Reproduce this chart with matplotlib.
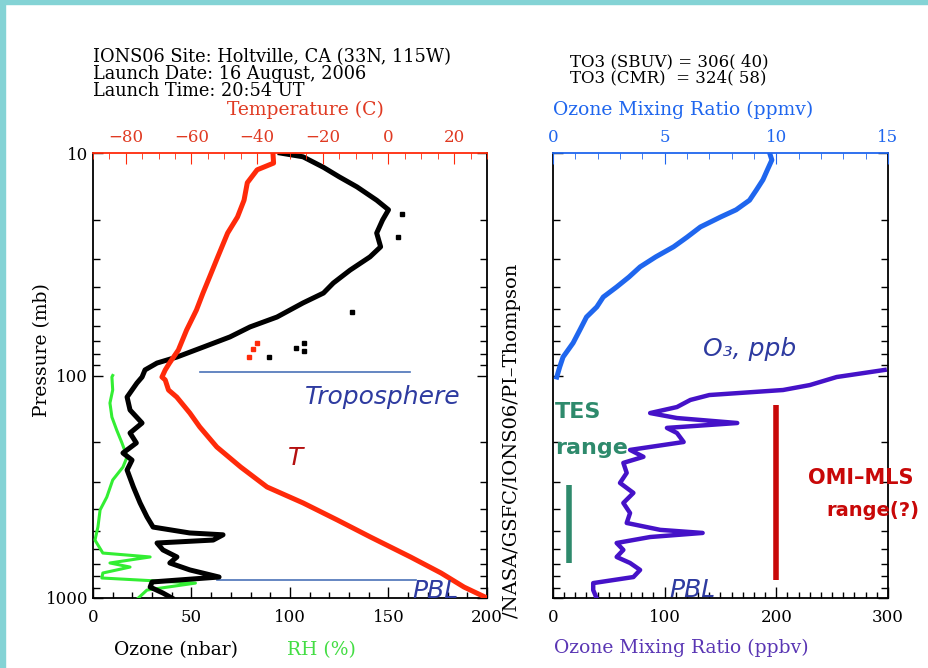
import numpy as np
import matplotlib
matplotlib.use("Agg")
from matplotlib import pyplot as plt
from matplotlib.patches import Rectangle
from matplotlib.ticker import MultipleLocator, NullFormatter, LogLocator

# --- sounding profiles (pressure in mb) ---
temp_p = [10.0, 11.1, 11.9, 13.6, 16.3, 19.4, 22.9, 29.3, 36.1, 42.6, 50.8, 62.5, 76.8,
          87.9, 94.4, 101.6, 104.7, 116.2, 125.0, 147.5, 170.2, 209.5, 258, 317, 374, 446,
          532, 654, 772, 893, 1000]
temp_c = [-35.2, -35.0, -40.0, -43.0, -44.0, -46.0, -49.0, -52.0, -54.5, -56.5, -58.5, -61.5,
          -64.0, -66.7, -68.0, -69.0, -68.0, -67.0, -64.5, -60.5, -57.5, -52.3, -45.0, -37.0,
          -26.0, -15.6, -5.5, 6.7, 16.0, 23.0, 30.0]

o3_p = [10.0, 10.4, 11.6, 12.8, 14.2, 16.3, 18.0, 20.0, 22.9, 26.4, 29.3, 33.6, 38.4, 42.6,
        47.2, 54.6, 60.5, 67.1, 74.5, 82.6, 87.9, 94.4, 101.6, 108.1, 125.0, 142.9, 163.5,
        181.3, 201, 223, 240, 266, 317, 374, 432, 480, 510, 520, 549, 566, 608, 654, 696,
        748, 805, 847, 893, 950, 1000]
o3_nbar = [95, 106.6, 117, 125, 134, 144, 150, 147, 144, 146, 140.6, 130.5, 122, 117, 106.6,
           93.4, 79.7, 69.5, 56, 42.6, 32.5, 26.4, 24.9, 22.3, 17.3, 18.8, 24.9, 18.8, 22,
           15.2, 19.8, 17.3, 20.5, 23.9, 27.4, 30.5, 49, 66, 61, 32.5, 35.5, 42.6, 39, 49.2,
           64, 30, 29, 35.5, 40]

rh_p = [100.0, 101.6, 116.2, 133.0, 153.8, 175.6, 201, 232, 258, 295, 352, 402, 480, 549,
        628, 654, 696, 726, 772, 813, 857, 921, 1000]
rh_pct = [10, 9.6, 10, 8.6, 9.6, 12, 14.7, 17.3, 15.2, 10, 7, 3.6, 2.5, 1, 5, 29, 8.6, 18.8,
          5, 4.5, 52, 27.4, 23]

# stray points in the ozone and temperature records
o3_stray_p = [18.8, 23.8, 51.6, 71.4, 75.2, 77.6, 82.6]
o3_stray_nbar = [156.7, 154.8, 131.3, 107, 103, 107, 89.3]
temp_stray_p = [71.4, 76.1, 82.6]
temp_stray_c = [-40.0, -41.3, -42.5]

# ozone mixing ratio: stratosphere in ppmv, troposphere in ppbv
ppmv_p = [10.0, 10.75, 11.9, 13.2, 14.7, 16.3, 18.0, 19.4, 21.5, 23.9, 26.4, 29.3, 32.5, 36.1,
          40.0, 44.4, 49.2, 54.6, 62.5, 71.4, 82.6, 91.6, 101.6]
ppmv = [9.7, 9.8, 9.6, 9.4, 9.1, 8.8, 8.2, 7.5, 6.6, 6.0, 5.4, 4.6, 3.9, 3.4, 2.85, 2.25, 1.96,
        1.5, 1.2, 0.9, 0.45, 0.3, 0.17]

ppbv_p = [94.4, 101.6, 110.4, 116.2, 122.4, 128.8, 138.6, 147.5, 155.3, 163.5, 172.0, 181.3,
          199.0, 216, 232, 247, 274, 304, 337, 374, 415, 460, 494, 510, 532, 566, 608, 654,
          696, 748, 805, 857, 921, 1000]
ppbv = [297, 254, 230, 206, 140, 123, 111, 87, 111, 165, 102, 111, 117, 69, 81, 63, 66, 60, 72,
        63, 69, 66, 96, 134, 87, 57, 63, 57, 69, 78, 72, 36, 36, 39]

# marked levels and satellite sensitivity ranges
tropopause_p = 96.4
pbl_p = 830.0
tes_ppbv, tes_range = 14.3, (310, 696)
omi_ppbv, omi_range = 200.0, (136, 830)

RED = "#ff2a0a"
BLACK = "black"
GREEN = "#33ee33"
BLUE = "#1f66ee"
PURPLE = "#4512c8"
NOTE_BLUE = "#2e3ba0"

W, H = 929, 668
fig = plt.figure(figsize=(W / 100, H / 100), dpi=100)
fig.patch.set_facecolor("white")
fig.patches.append(Rectangle((0, 1 - 4 / H), 1, 4 / H, transform=fig.transFigure,
                             color="#84d3d5", zorder=0))
fig.patches.append(Rectangle((0, 0), 5 / W, 1, transform=fig.transFigure,
                             color="#84d3d5", zorder=0))

serif = "DejaVu Serif"
note = "DejaVu Sans"


def style_pressure_axis(ax, labels):
    ax.set_yscale("log")
    ax.set_ylim(1000, 10)
    ax.yaxis.set_minor_locator(LogLocator(base=10, subs=np.arange(2, 10), numticks=20))
    ax.yaxis.set_minor_formatter(NullFormatter())
    ax.set_yticks([10, 100, 1000])
    if labels:
        ax.set_yticklabels(["10", "100", "1000"], fontfamily=serif, fontsize=12)
    else:
        ax.set_yticklabels([])
    ax.tick_params(axis="y", which="both", direction="in", left=True, right=True)
    ax.tick_params(axis="y", which="major", length=7, width=1)
    ax.tick_params(axis="y", which="minor", length=5, width=1)
    ax.tick_params(axis="x", which="both", direction="in", top=False, width=1)
    ax.tick_params(axis="x", which="major", length=8, pad=8, labelsize=12)
    ax.tick_params(axis="x", which="minor", length=4)
    for s in ax.spines.values():
        s.set_linewidth(1.3)
    ax.spines["top"].set_visible(False)


# ---------------- left panel: T, ozone partial pressure, RH ----------------
ax = fig.add_axes([93 / W, 1 - 598 / H, (487 - 93) / W, (598 - 153) / H])
ax.set_xlim(0, 200)
ax.xaxis.set_minor_locator(MultipleLocator(10))
style_pressure_axis(ax, True)
ax.set_xticks([0, 50, 100, 150, 200])
ax.set_xticklabels(["0", "50", "100", "150", "200"], fontfamily=serif)

ax.plot(rh_pct, rh_p, color=GREEN, lw=2.2, zorder=3)
ax.plot(o3_nbar, o3_p, color=BLACK, lw=3.6, zorder=4)
ax.plot(o3_stray_nbar, o3_stray_p, "s", color=BLACK, ms=3, zorder=4)
ax.plot([54.3, 161], [tropopause_p, tropopause_p], color="#4a72b8", lw=1.2, zorder=2)
ax.plot([63, 164], [pbl_p, pbl_p], color="#4a72b8", lw=1.2, zorder=2)

axt = ax.twiny()
axt.set_xlim(-90, 30)
axt.plot(temp_c, temp_p, color=RED, lw=3.6, zorder=4)
axt.plot(temp_stray_c, temp_stray_p, "s", color=RED, ms=2.5, zorder=4)
axt.xaxis.set_minor_locator(MultipleLocator(5))
axt.tick_params(axis="x", which="both", direction="in", colors=RED, top=True, bottom=False)
axt.tick_params(axis="x", which="major", length=8, pad=5, labelsize=12, labelcolor="#e03a22")
axt.tick_params(axis="x", which="minor", length=4)
for side in ["bottom", "left", "right"]:
    axt.spines[side].set_visible(False)
axt.spines["top"].set_color(RED)
axt.spines["top"].set_linewidth(1.3)
axt.set_xticks([-80, -60, -40, -20, 0, 20])
axt.set_xticklabels(["\u221280", "\u221260", "\u221240", "\u221220", "0", "20"], fontfamily=serif)

# ---------------- right panel: ozone mixing ratio ----------------
ax2 = fig.add_axes([553 / W, 1 - 598 / H, (888 - 553) / W, (598 - 153) / H])
ax2.set_xlim(0, 300)
ax2.xaxis.set_minor_locator(MultipleLocator(10))
style_pressure_axis(ax2, False)
ax2.set_xticks([0, 100, 200, 300])
ax2.set_xticklabels(["0", "100", "200", "300"], fontfamily=serif)
ax2.plot(ppbv, ppbv_p, color=PURPLE, lw=3.2, zorder=4)
ax2.plot([tes_ppbv, tes_ppbv], tes_range, color="#2e8a6c", lw=4, solid_capstyle="butt", zorder=3)
ax2.plot([omi_ppbv, omi_ppbv], omi_range, color="#c80808", lw=4, solid_capstyle="butt", zorder=3)

ax2t = ax2.twiny()
ax2t.set_xlim(0, 15)
ax2t.plot(ppmv, ppmv_p, color=BLUE, lw=3.6, zorder=4)
ax2t.xaxis.set_minor_locator(MultipleLocator(1))
ax2t.tick_params(axis="x", which="both", direction="in", colors=BLUE, top=True, bottom=False)
ax2t.tick_params(axis="x", which="major", length=8, pad=5, labelsize=12)
ax2t.tick_params(axis="x", which="minor", length=4)
ax2t.set_xticks([0, 5, 10, 15])
ax2t.set_xticklabels(["0", "5", "10", "15"], fontfamily=serif)
for side in ["bottom", "left", "right"]:
    ax2t.spines[side].set_visible(False)
ax2t.spines["top"].set_color(BLUE)
ax2t.spines["top"].set_linewidth(1.3)


def ftext(x, y, s, **kw):
    fig.text(x / W, 1 - y / H, s, **kw)


# header and axis titles
hdr = dict(fontfamily=serif, va="center", ha="left", linespacing=0.92)
ftext(93, 74, "IONS06 Site: Holtville, CA (33N, 115W)\nLaunch Date: 16 August, 2006\n"
      "Launch Time: 20:54 UT", fontsize=12.8, **hdr)
ftext(570, 70, "TO3 (SBUV) = 306( 40)\nTO3 (CMR)  = 324( 58)", fontsize=12, **hdr)
lab = dict(fontfamily=serif, fontsize=13.5, ha="center", va="center")
ftext(305, 110, "Temperature (C)", color="#e03a22", **lab)
ftext(683, 110, "Ozone Mixing Ratio (ppmv)", color=BLUE, **lab)
ftext(176, 650, "Ozone (nbar)", **lab)
ftext(321, 650, "RH (%)", color="#44dd44", **lab)
ftext(681, 648, "Ozone Mixing Ratio (ppbv)", color="#5a36b4", **lab)
ftext(42, 350, "Pressure (mb)", rotation=90, **lab)
ftext(512, 441, "/NASA/GSFC/IONS06/PI\u2013Thompson", fontfamily=serif, fontsize=14,
      rotation=90, ha="center", va="center")

# annotations
ann = dict(fontfamily=note, fontstyle="italic", fontsize=18, va="center", ha="left")
ftext(305, 397, "Troposphere", color=NOTE_BLUE, **ann)
ftext(288, 458, "T", color="#b41010", **ann)
ftext(412, 591, "PBL", color=NOTE_BLUE, **ann)
ftext(703, 349, "O\u2083, ppb", color=NOTE_BLUE, **ann)
ftext(669, 590, "PBL", color=NOTE_BLUE, **ann)
bold = dict(fontfamily=note, fontweight="bold", fontsize=16, va="center")
ftext(555, 412, "TES", color="#2e8a6c", ha="left", **bold)
ftext(555, 448, "range", color="#2e8a6c", ha="left", **bold)
ftext(808, 478, "OMI\u2013MLS", color="#c80808", ha="left", fontfamily=note,
      fontweight="bold", fontsize=15, va="center")
ftext(826, 510, "range(?)", color="#c80808", ha="left", fontfamily=note,
      fontweight="bold", fontsize=14, va="center")

fig.savefig("out.png", dpi=100)
